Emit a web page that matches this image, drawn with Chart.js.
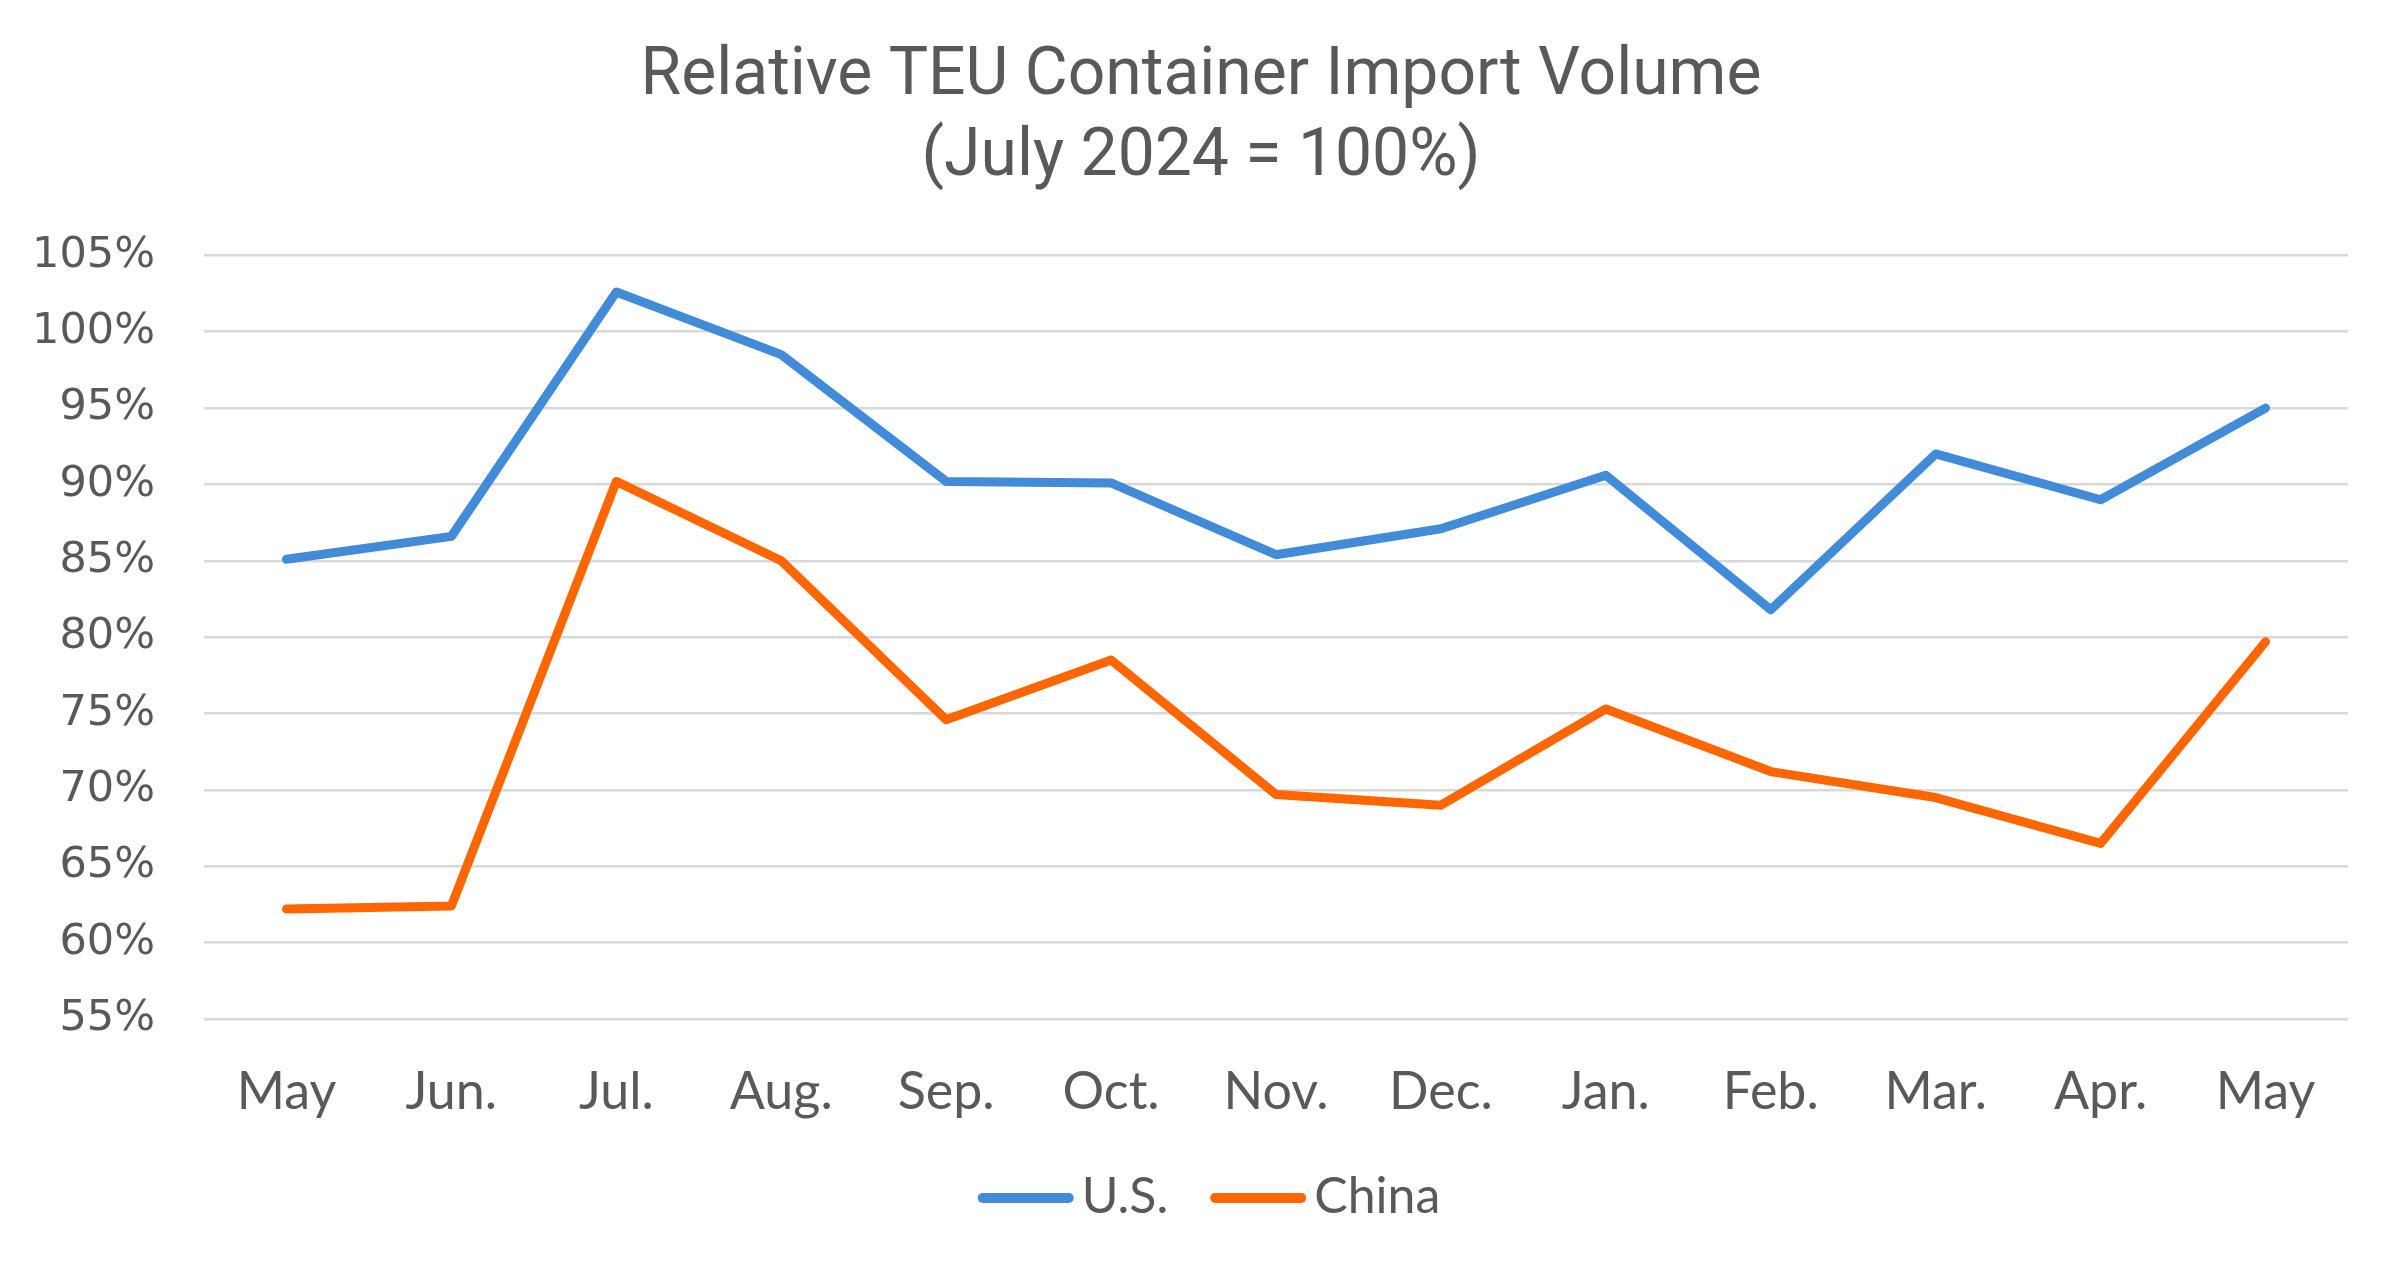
<!DOCTYPE html>
<html>
<head>
<meta charset="utf-8">
<script src="https://cdn.jsdelivr.net/npm/chart.js@4.4.1/dist/chart.umd.min.js"></script>
<style>
  html, body { margin: 0; padding: 0; background: #fff; }
  #wrap { width: 2406px; height: 1278px; }
</style>
</head>
<body>
<div id="wrap"><canvas id="chart"></canvas></div>
<script>
const months = ['May', 'Jun.', 'Jul.', 'Aug.', 'Sep.', 'Oct.', 'Nov.', 'Dec.', 'Jan.', 'Feb.', 'Mar.', 'Apr.', 'May'];
const usValues = [85.1, 86.6, 102.6, 98.5, 90.2, 90.1, 85.4, 87.1, 90.6, 81.8, 92.0, 89.0, 95.0];
const chinaValues = [62.2, 62.4, 90.2, 85.0, 74.6, 78.5, 69.7, 69.0, 75.3, 71.2, 69.5, 66.5, 79.7];
const yTicks = [55, 60, 65, 70, 75, 80, 85, 90, 95, 100, 105];
const titleLines = ['Relative TEU Container Import Volume', '(July 2024 = 100%)'];

const textGrey = '#595959';
const blue = '#418BD8';
const orange = '#FF6600';

// nudge the title so it is centred on the page like the original
const titleShift = {
  id: 'titleShift',
  afterLayout(chart) {
    const t = chart.titleBlock;
    t.left += 34;
    t.width -= 34;
  }
};

// legend drawn by hand so the gap between swatch and text matches the original
const lineLegend = {
  id: 'lineLegend',
  afterDraw(chart) {
    const c = chart.ctx;
    const sw = 96, gapText = 8, gapItem = 42, y = 1197;
    c.save();
    c.font = '50px Lato';
    c.textBaseline = 'middle';
    const items = chart.data.datasets.map(ds => ({ text: ds.label, color: ds.borderColor, w: c.measureText(ds.label).width }));
    let total = 0;
    items.forEach((it, i) => { total += sw + gapText + it.w + (i ? gapItem : 0); });
    let x = chart.width / 2 - total / 2 + 6;
    items.forEach(it => {
      c.strokeStyle = it.color;
      c.lineWidth = 10;
      c.lineCap = 'round';
      c.beginPath();
      c.moveTo(x + 5, y + 1);
      c.lineTo(x + sw - 5, y + 1);
      c.stroke();
      c.fillStyle = textGrey;
      c.fillText(it.text, x + sw + gapText, y);
      x += sw + gapText + it.w + gapItem;
    });
    c.restore();
  }
};

const ctx = document.getElementById('chart').getContext('2d');
new Chart(ctx, {
  type: 'line',
  data: {
    labels: months,
    datasets: [
      {
        label: 'U.S.',
        data: usValues,
        borderColor: blue,
        backgroundColor: blue,
        borderWidth: 9,
        pointRadius: 0,
        tension: 0,
        borderCapStyle: 'round',
        borderJoinStyle: 'round'
      },
      {
        label: 'China',
        data: chinaValues,
        borderColor: orange,
        backgroundColor: orange,
        borderWidth: 9,
        pointRadius: 0,
        tension: 0,
        borderCapStyle: 'round',
        borderJoinStyle: 'round'
      }
    ]
  },
  options: {
    responsive: true,
    maintainAspectRatio: false,
    animation: false,
    layout: { padding: { left: 20, right: 58, top: 0, bottom: 129 } },
    plugins: {
      title: {
        display: true,
        text: titleLines,
        color: textGrey,
        font: { family: 'Roboto', size: 66, weight: 'normal', lineHeight: 1.23 },
        padding: { top: 37, bottom: 56 }
      },
      legend: { display: false },
      tooltip: { enabled: false }
    },
    scales: {
      x: {
        offset: true,
        grid: { display: false, drawTicks: false },
        border: { display: false },
        ticks: {
          color: textGrey,
          font: { family: 'Lato', size: 52 },
          padding: 42,
          maxRotation: 0,
          autoSkip: false
        },
        afterFit(scale) { scale.height = 130; }
      },
      y: {
        min: 55,
        max: 105,
        afterBuildTicks(scale) { scale.ticks = yTicks.map(v => ({ value: v })); },
        grid: { color: '#D9D9D9', lineWidth: 2.5, drawTicks: false },
        border: { display: false },
        ticks: {
          color: textGrey,
          font: { family: 'DejaVu Sans', size: 43 },
          padding: 49,
          callback: v => v + '%'
        },
        afterFit(scale) { scale.width = 184; }
      }
    }
  },
  plugins: [titleShift, lineLegend]
});
</script>
</body>
</html>
